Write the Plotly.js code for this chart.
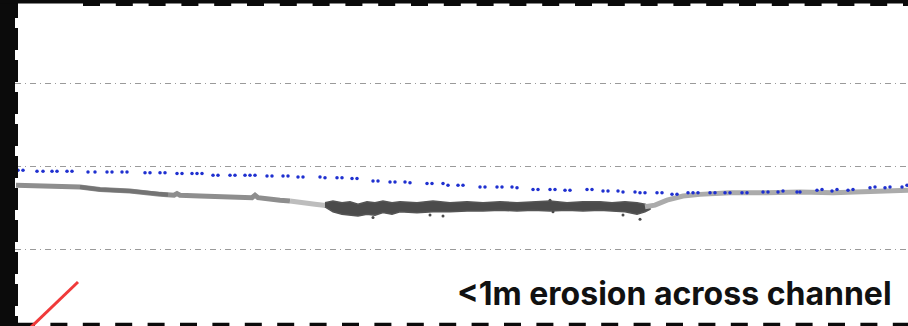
<!DOCTYPE html>
<html>
<head>
<meta charset="utf-8">
<script src="https://cdn.plot.ly/plotly-3.0.1.min.js"></script>
<style>
  html, body { margin: 0; padding: 0; background: #ffffff; }
  #chart { width: 908px; height: 326px; }
</style>
</head>
<body>
<div id="chart"></div>
<script>
// ---- Data (distance along section in m, elevation in m) ----
// Pre-event survey points (blue)
const surveyDist = [0.5, 1.75, 5.25, 6.75, 9, 10.25, 12.75, 14, 18, 19.75, 22.75, 24, 26.5, 27.75,
  32.25, 33.5, 36, 37.25, 40.25, 41.5, 44, 45.25, 46.5, 49.25, 50.5, 53.5, 54.75, 57.25, 58.5, 59.75,
  62.75, 64, 66.75, 68, 70.5, 71.75, 76, 77.25, 80.25, 81.5, 84, 85.25, 89.25, 90.5, 93.5, 94.75,
  97.25, 98.5, 102.75, 104, 106.75, 108, 110.5, 111.75, 116, 117.25, 120.25, 121.5, 124, 125.25,
  129.25, 130.5, 133.5, 134.75, 137.25, 138.5, 142.75, 144, 146.75, 148, 150.5, 151.75, 154.75, 156,
  157.25, 160.25, 161.5, 164, 165.25, 168, 169.25, 170.5, 173.5, 174.75, 177.25, 178.5, 181.5, 182.75,
  186.75, 188, 190.5, 191.75, 195.25, 196, 200.25, 201.5, 204, 205.25, 208, 209.25, 213.5, 214.75,
  217.25, 218.5, 221.5, 222.75];
const surveyElev = [10.96, 10.96, 10.95, 10.95, 10.95, 10.95, 10.95, 10.95, 10.94, 10.94, 10.94, 10.94, 10.94, 10.94,
  10.93, 10.93, 10.93, 10.93, 10.92, 10.92, 10.92, 10.92, 10.92, 10.90, 10.90, 10.90, 10.90, 10.90, 10.90, 10.90,
  10.89, 10.89, 10.89, 10.89, 10.88, 10.88, 10.88, 10.87, 10.87, 10.87, 10.86, 10.86, 10.83, 10.83, 10.82, 10.82,
  10.82, 10.81, 10.80, 10.80, 10.80, 10.78, 10.78, 10.78, 10.76, 10.76, 10.76, 10.76, 10.76, 10.75,
  10.73, 10.73, 10.73, 10.73, 10.72, 10.72, 10.73, 10.73, 10.71, 10.71, 10.71, 10.70, 10.70, 10.69,
  10.69, 10.69, 10.69, 10.67, 10.67, 10.69, 10.69, 10.69, 10.69, 10.69, 10.69, 10.69, 10.69, 10.69,
  10.70, 10.70, 10.70, 10.71, 10.70, 10.70, 10.72, 10.73, 10.71, 10.73, 10.72, 10.73, 10.75, 10.76,
  10.75, 10.76, 10.76, 10.78];

// Post-event ground profile, left bank
const leftBankDist = [0, 8.5, 16, 21, 28.5, 36, 39.5, 40.25, 41, 46, 53.5, 59, 59.75, 60.5, 66, 68.5];
const leftBankElev = [10.78, 10.77, 10.76, 10.73, 10.71, 10.67, 10.66, 10.68, 10.66, 10.65, 10.64, 10.63, 10.66, 10.63, 10.60, 10.59];
// Darker, rougher stretch of the left bank
const roughDist = [16, 21, 28.5, 36, 38];
const roughElev = [10.76, 10.73, 10.71, 10.67, 10.665];
// Transition into channel
const slopeDist = [68.5, 71, 74.75, 78.5];
const slopeElev = [10.59, 10.58, 10.55, 10.53];
// Channel bed point cloud envelope (top edge, then bottom edge back)
const bedTopDist = [77.25, 79.25, 81.5, 83.5, 85.5, 87.75, 89.75, 91.75, 94, 96, 100.25, 104.25, 108.5, 112.75,
  116.75, 121, 125.25, 129.25, 133.5, 137.75, 141.75, 146, 149, 152.25, 155.25, 157.25, 158.5];
const bedTopElev = [10.57, 10.59, 10.57, 10.58, 10.55, 10.58, 10.57, 10.59, 10.57, 10.58, 10.57, 10.59, 10.57, 10.58,
  10.57, 10.58, 10.57, 10.58, 10.59, 10.57, 10.58, 10.58, 10.57, 10.58, 10.57, 10.55, 10.53];
const bedBotDist = [158.5, 157.25, 155.25, 152.25, 149, 146, 141.75, 137.75, 133.5, 129.25, 125.25, 121, 116.75,
  112.75, 108.5, 104.25, 100.25, 96, 94, 91.75, 89.75, 87.75, 85.5, 83.5, 81.5, 79.25, 77.25];
const bedBotElev = [10.49, 10.46, 10.43, 10.46, 10.47, 10.48, 10.47, 10.48, 10.47, 10.48, 10.47, 10.48, 10.47,
  10.47, 10.46, 10.46, 10.45, 10.46, 10.43, 10.45, 10.42, 10.43, 10.41, 10.42, 10.43, 10.46, 10.52];
// Stray bed points
const strayDist = [89.25, 103.5, 106.75, 133.5, 134.25, 151.75, 156];
const strayElev = [10.39, 10.42, 10.41, 10.60, 10.46, 10.42, 10.37];
// Right bank
const rightBankDist = [157.25, 159.75, 162.75, 166.75, 171, 178.5, 187.75, 196, 204.25, 211, 223];
const rightBankElev = [10.52, 10.54, 10.60, 10.65, 10.67, 10.69, 10.69, 10.70, 10.69, 10.70, 10.72];

const gridElev = [10, 11, 12];
const noteText = "<1m erosion across channel";

// ---- Helpers for paper-space decoration ----
const W = 908, H = 326;
const px = v => v / W;
const py = v => 1 - v / H;

const traces = [
  { x: leftBankDist, y: leftBankElev, mode: 'lines', line: { color: '#8e8e8e', width: 5 }, hoverinfo: 'skip' },
  { x: roughDist, y: roughElev, mode: 'lines', line: { color: '#747474', width: 4 }, hoverinfo: 'skip' },
  { x: slopeDist, y: slopeElev, mode: 'lines', line: { color: '#bdbdbd', width: 5 }, hoverinfo: 'skip' },
  { x: bedTopDist.concat(bedBotDist), y: bedTopElev.concat(bedBotElev), mode: 'lines', fill: 'toself',
    fillcolor: '#4b4b4b', line: { color: '#555555', width: 1.5 }, hoverinfo: 'skip' },
  { x: strayDist, y: strayElev, mode: 'markers', marker: { color: '#4b4b4b', size: 3 }, hoverinfo: 'skip' },
  { x: rightBankDist, y: rightBankElev, mode: 'lines', line: { color: '#ababab', width: 5 }, hoverinfo: 'skip' },
  { x: surveyDist, y: surveyElev, mode: 'markers', marker: { color: '#1f30d0', size: 3.5 }, hoverinfo: 'skip' }
];

const layout = {
  width: W, height: H,
  margin: { l: 0, r: 0, t: 0, b: 0, pad: 0 },
  paper_bgcolor: '#ffffff', plot_bgcolor: '#ffffff',
  showlegend: false,
  xaxis: { range: [-4, 223], visible: false, fixedrange: true },
  yaxis: { range: [9.084, 13.012], tickvals: gridElev, showticklabels: false, ticks: '',
    showgrid: true, gridcolor: '#9a9a9a', gridwidth: 1, griddash: '6px,4px,1px,4px',
    zeroline: false, showline: false, fixedrange: true },
  shapes: [
    // left black border bar
    { type: 'rect', xref: 'paper', yref: 'paper', x0: 0, x1: px(15), y0: 0, y1: 1,
      fillcolor: '#0b0b0b', line: { width: 0 } },
    { type: 'line', xref: 'paper', yref: 'paper', x0: px(16.5), x1: px(16.5), y0: py(-4), y1: py(330),
      line: { color: '#0b0b0b', width: 3, dash: '22px,10px' } },
    // top border band + dashes
    { type: 'rect', xref: 'paper', yref: 'paper', x0: 0, x1: 1, y0: py(3.5), y1: 1,
      fillcolor: '#0b0b0b', line: { width: 0 } },
    { type: 'line', xref: 'paper', yref: 'paper', x0: px(83), x1: 1, y0: py(4.5), y1: py(4.5),
      line: { color: '#0b0b0b', width: 3, dash: '17px,15.8px' } },
    // bottom dashes
    { type: 'line', xref: 'paper', yref: 'paper', x0: px(18), x1: 1, y0: py(324.5), y1: py(324.5),
      line: { color: '#0b0b0b', width: 3.5, dash: '17px,15.4px' } },
    // red pointer stroke
    { type: 'line', xref: 'paper', yref: 'paper', x0: px(29), y0: py(329), x1: px(78), y1: py(282),
      line: { color: '#f03a3a', width: 3 } }
  ],
  annotations: [
    { text: noteText, xref: 'paper', yref: 'paper', x: px(456), y: py(293),
      xanchor: 'left', yanchor: 'middle', showarrow: false, borderpad: 0,
      font: { family: 'Inter, "Open Sans", sans-serif', size: 32, color: '#111111', weight: 700 } }
  ]
};

Plotly.newPlot('chart', traces, layout, { staticPlot: true, displayModeBar: false });
</script>
</body>
</html>
